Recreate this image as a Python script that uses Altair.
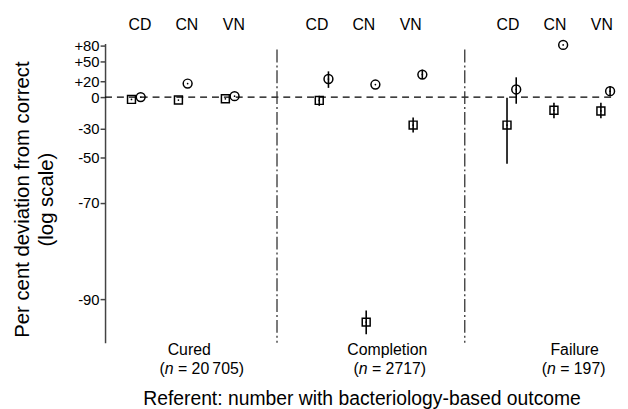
import altair as alt
import pandas as pd

groups = ["Cured", "Completion", "Failure"]
group_n = ["= 20\u2009705)", "= 2717)", "= 197)"]
cats = ["CD", "CN", "VN"]

# per cent deviation, row-major (group x category)
sq_pct = [-2.6, -3.3, -1.9, -3.7, -92.3, -27.3, -27.3, -13.9, -14.6]
sq_lo = [-2.6, -3.3, -1.9, -9.5, -93.3, -33.2, -53.2, -21.4, -21.4]
sq_hi = [-2.6, -3.3, -1.9, 1.5, -91.2, -20.8, -0.8, -6.2, -6.2]
ci_pct = [0.0, 16.7, 1.1, 22.9, 15.4, 29.2, 9.1, 81.3, 7.0]
ci_lo = [0.0, 16.7, 1.1, 11.1, 15.4, 22.9, -7.3, 81.3, 1.1]
ci_hi = [0.0, 16.7, 1.1, 34.1, 15.4, 36.7, 25.3, 81.3, 13.2]

tick_vals = [1.8, 1.5, 1.2, 1.0, 0.7, 0.5, 0.3, 0.1]

# layout helpers
CIRC_OFF = 0.196
top_off = [0.18, -0.05, 0.02]
grp_label_x = [1.23, 5.45, 9.44]
grp_n_start = [0.597, 4.73, 8.74]

rows = []
for g in range(3):
    for c in range(3):
        i = 3 * g + c
        s = 4 * g + c
        rows.append(dict(x=s, pct=sq_pct[i], lo=sq_lo[i], hi=sq_hi[i], kind="sq"))
        rows.append(dict(x=s + CIRC_OFF, pct=ci_pct[i], lo=ci_lo[i], hi=ci_hi[i], kind="ci"))
df = pd.DataFrame(rows)

top_df = pd.DataFrame([dict(x=4 * g + c + top_off[g], t=cats[c]) for g in range(3) for c in range(3)])
grp_df = pd.DataFrame(dict(x=grp_label_x, t=groups))
n_df = pd.DataFrame(dict(x=grp_n_start, t=group_n))
div_df = pd.DataFrame(dict(x=[4 * g - 0.9 for g in (1, 2)]))
zero_df = pd.DataFrame(dict(r=[1.0]))

FONT = "Liberation Sans"
W, H = 520, 302
xs = alt.Scale(domain=[-0.5633, 10.407], nice=False, zero=False)
ys = alt.Scale(type="log", domain=[0.0609, 1.8396], nice=False)

yaxis = alt.Axis(
    values=tick_vals,
    labelExpr="datum.value > 1.0001 ? '+' + round((datum.value - 1) * 100) : '' + round((datum.value - 1) * 100)",
    title=["Per cent deviation from correct", "(log scale)"],
    titleFont=FONT, titleFontSize=20.5, titleFontWeight="normal", titleColor="black",
    titleAngle=270, titleX=-83, titleY=157, titleAlign="center", titleBaseline="middle",
    titleLineHeight=24,
    labelFont=FONT, labelFontSize=15, labelColor="black", labelPadding=1,
    labelOverlap=False, labelFlush=False,
    domainColor="#444", domainWidth=1.5, tickColor="#444", tickWidth=1.5, tickSize=5,
    grid=False,
)

base = alt.Chart(df).transform_calculate(
    r="1 + datum.pct / 100", rlo="1 + datum.lo / 100", rhi="1 + datum.hi / 100"
)
X = alt.X("x:Q", scale=xs, axis=None)

bars = base.mark_rule(strokeWidth=1.6, color="black").encode(
    x=X, y=alt.Y("rlo:Q", scale=ys, axis=yaxis), y2="rhi:Q"
)
squares = base.transform_filter("datum.kind == 'sq'").mark_point(
    shape="square", filled=False, size=64, strokeWidth=1.5, color="black", opacity=1
).encode(x=X, y=alt.Y("r:Q", scale=ys, axis=yaxis))
circles = base.transform_filter("datum.kind == 'ci'").mark_point(
    shape="circle", filled=False, size=80, strokeWidth=1.5, color="black", opacity=1
).encode(x=X, y=alt.Y("r:Q", scale=ys, axis=yaxis))
dots = base.mark_circle(size=3, color="black", opacity=1).encode(
    x=X, y=alt.Y("r:Q", scale=ys, axis=yaxis)
)

zero = alt.Chart(zero_df).mark_rule(strokeDash=[7, 5], strokeWidth=1.3, color="black").encode(
    y=alt.Y("r:Q", scale=ys, axis=yaxis), x=alt.value(0), x2=alt.value(511)
)
dividers = alt.Chart(div_df).mark_rule(strokeDash=[13, 3, 2, 3], strokeWidth=1.3, color="#333").encode(
    x=X, y=alt.value(6), y2=alt.value(H)
)

top = alt.Chart(top_df).mark_text(font=FONT, fontSize=16, color="black", baseline="middle").encode(
    x=X, y=alt.value(-19), text="t:N"
)
glab = alt.Chart(grp_df).mark_text(font=FONT, fontSize=16, color="black", baseline="middle").encode(
    x=X, y=alt.value(309), text="t:N"
)
n1 = alt.Chart(n_df).mark_text(font=FONT, fontSize=16, color="black", baseline="middle", align="left").encode(
    x=X, y=alt.value(329), text=alt.value("(")
)
n2 = alt.Chart(n_df).mark_text(font=FONT, fontSize=16, color="black", baseline="middle", align="left",
                               fontStyle="italic", dx=5.3).encode(
    x=X, y=alt.value(329), text=alt.value("n")
)
n3 = alt.Chart(n_df).mark_text(font=FONT, fontSize=16, color="black", baseline="middle", align="left",
                               dx=18.6).encode(
    x=X, y=alt.value(329), text="t:N"
)
xtitle = alt.Chart(zero_df).mark_text(font=FONT, fontSize=19.5, color="black", baseline="middle").encode(
    x=alt.value(259.5), y=alt.value(359), text=alt.value("Referent: number with bacteriology-based outcome")
)

chart = alt.layer(
    zero, dividers, bars, squares, circles, dots, top, glab, n1, n2, n3, xtitle
).properties(
    width=W, height=H,
    padding={"left": 98, "top": 34, "right": 0, "bottom": 65},
    autosize=alt.AutoSizeParams(type="none"),
).configure_view(stroke=None)

chart.save("out.html", embed_options={"renderer": "svg", "actions": False})
